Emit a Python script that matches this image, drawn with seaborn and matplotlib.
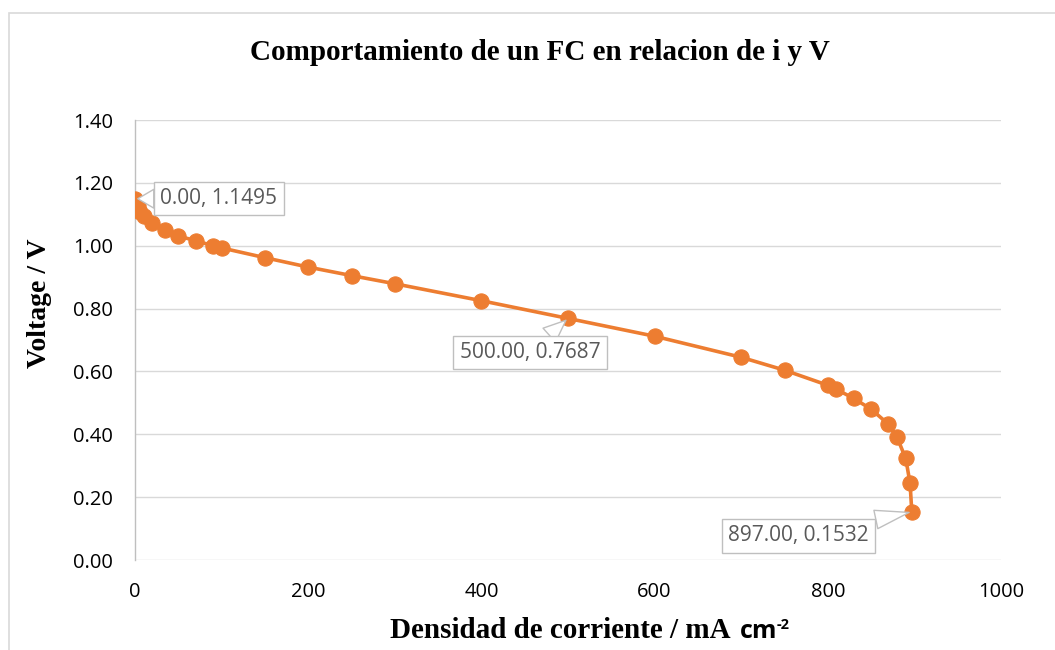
import matplotlib
matplotlib.use("Agg")
import matplotlib.pyplot as plt
from matplotlib.patches import Rectangle
import seaborn as sns
import pandas as pd

# Polarization curve data: current density (mA cm-2) and cell voltage (V)
current_density = [0, 3, 6, 10, 20, 35, 50, 70, 90, 100, 150, 200, 250, 300,
                   400, 500, 600, 700, 750, 800, 810, 830, 850, 870, 880,
                   890, 895, 897]
voltage = [1.1495, 1.125, 1.108, 1.095, 1.072, 1.050, 1.031, 1.016, 1.000,
           0.993, 0.962, 0.932, 0.905, 0.879, 0.825, 0.7687, 0.712, 0.645,
           0.604, 0.556, 0.543, 0.514, 0.480, 0.432, 0.390, 0.323, 0.244,
           0.1532]

labelled_points = [0, 500, 897]
y_ticks = [0.0, 0.2, 0.4, 0.6, 0.8, 1.0, 1.2, 1.4]
x_ticks = [0, 200, 400, 600, 800, 1000]

title = "Comportamiento de un FC en relacion de i y V"
x_label_main = "Densidad de corriente / mA"
x_label_unit = "cm"
x_label_exp = "-2"
y_label = "Voltage / V"

df = pd.DataFrame({"i": current_density, "V": voltage})

sns.set_theme(style="white")
plt.rcParams["font.family"] = ["Open Sans", "DejaVu Sans"]
plt.rcParams["text.color"] = "black"

W, H = 1055, 650
fig = plt.figure(figsize=(W / 100, H / 100), dpi=100)
ax = fig.add_axes([135 / W, 1 - 560 / H, (1001 - 135) / W, (560 - 120) / H])

orange = "#ED7D31"
sns.lineplot(data=df, x="i", y="V", sort=False, ax=ax, color=orange,
             linewidth=2.6, marker="o", markersize=11,
             markeredgecolor=orange, markerfacecolor=orange, zorder=3)

ax.set_xlim(0, 1000)
ax.set_ylim(0, 1.4)
ax.set_xticks(x_ticks)
ax.set_yticks(y_ticks)
ax.set_xticklabels([str(t) for t in x_ticks])
ax.set_yticklabels([f"{t:.2f}" for t in y_ticks])
ax.tick_params(axis="both", length=0, labelsize=14.5, colors="#000000")
ax.tick_params(axis="y", pad=16)
ax.tick_params(axis="x", pad=16)
ax.set_xlabel("")
ax.set_ylabel("")

ax.grid(axis="y", color="#d9d9d9", linewidth=1)
ax.grid(axis="x", visible=False)
for side in ["top", "right", "bottom"]:
    ax.spines[side].set_visible(False)
ax.spines["left"].set_color("#bfbfbf")
ax.spines["left"].set_linewidth(1)

# Data callouts
offsets = {0: (84, 0), 500: (-38, -34), 897: (-113, -24)}
for xv in labelled_points:
    yv = voltage[current_density.index(xv)]
    ax.annotate(f"{xv:.2f}, {yv:.4f}", xy=(xv, yv),
                xytext=offsets[xv], textcoords="offset pixels",
                ha="center", va="center", fontsize=15, color="#595959",
                bbox=dict(boxstyle="square,pad=0.3", fc="white",
                          ec="#bfbfbf", lw=1),
                arrowprops=dict(arrowstyle="wedge,tail_width=0.9",
                                fc="white", ec="#bfbfbf", lw=1,
                                shrinkA=0, shrinkB=2),
                zorder=5)

serif = ["Liberation Serif", "DejaVu Serif"]
fig.text(540 / W, 1 - 52 / H, title, ha="center", va="center",
         fontsize=21, fontweight="bold", family=serif)
fig.text(40 / W, 1 - 303 / H, y_label, ha="center", va="center",
         rotation=90, fontsize=20, fontweight="bold", family=serif)

# X axis title: serif words, sans unit with superscript exponent
renderer = fig.canvas.get_renderer()
y_base = 1 - 638 / H
gap = 9
t1 = fig.text(0, y_base, x_label_main, ha="left", va="baseline",
              fontsize=21, fontweight="bold", family=serif)
t2 = fig.text(0, y_base, x_label_unit, ha="left", va="baseline",
              fontsize=18, fontweight="bold")
t3 = fig.text(0, y_base + 9 / H, x_label_exp, ha="left", va="baseline",
              fontsize=10.5, fontweight="bold")
w1 = t1.get_window_extent(renderer).width
w2 = t2.get_window_extent(renderer).width
w3 = t3.get_window_extent(renderer).width
x0 = 590 - (w1 + gap + w2 + w3) / 2
t1.set_x(x0 / W)
t2.set_x((x0 + w1 + gap) / W)
t3.set_x((x0 + w1 + gap + w2) / W)

# Chart area frame
fig.patches.append(Rectangle((9 / W, -0.05), 1.1, 1 - 13 / H + 0.05,
                             transform=fig.transFigure, fill=False,
                             ec="#d9d9d9", lw=1.2))

fig.savefig("out.png", dpi=100, facecolor="white")
